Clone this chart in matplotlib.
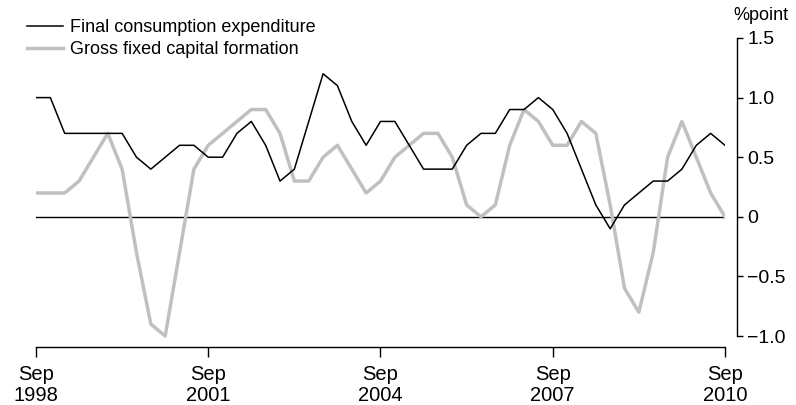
import numpy as np
import matplotlib.pyplot as plt

plt.rcParams['font.family'] = ['Liberation Sans', 'DejaVu Sans']

# quarterly, Sep 1998 - Sep 2010, contribution to growth (%point)
fce = [1.0, 1.0, 0.7, 0.7, 0.7, 0.7, 0.7, 0.5, 0.4, 0.5, 0.6, 0.6, 0.5,
       0.5, 0.7, 0.8, 0.6, 0.3, 0.4, 0.8, 1.2, 1.1, 0.8, 0.6, 0.8,
       0.8, 0.6, 0.4, 0.4, 0.4, 0.6, 0.7, 0.7, 0.9, 0.9, 1.0, 0.9,
       0.7, 0.4, 0.1, -0.1, 0.1, 0.2, 0.3, 0.3, 0.4, 0.6, 0.7, 0.6]
gfcf = [0.2, 0.2, 0.2, 0.3, 0.5, 0.7, 0.4, -0.3, -0.9, -1.0, -0.3, 0.4, 0.6,
        0.7, 0.8, 0.9, 0.9, 0.7, 0.3, 0.3, 0.5, 0.6, 0.4, 0.2, 0.3,
        0.5, 0.6, 0.7, 0.7, 0.5, 0.1, 0.0, 0.1, 0.6, 0.9, 0.8, 0.6,
        0.6, 0.8, 0.7, 0.1, -0.6, -0.8, -0.3, 0.5, 0.8, 0.5, 0.2, 0.0]
tick_pos = [0, 12, 24, 36, 48]
tick_labels = ['Sep\n1998', 'Sep\n2001', 'Sep\n2004', 'Sep\n2007', 'Sep\n2010']
y_ticks = [-1.0, -0.5, 0, 0.5, 1.0, 1.5]
y_labels = ['\u22121.0', '\u22120.5', '0', '0.5', '1.0', '1.5']

x = np.arange(len(fce))

fig = plt.figure(figsize=(7.96, 4.05), dpi=100)
ax = fig.add_axes([36 / 796, 58 / 405, 689 / 796, 309 / 405])

ax.axhline(0, color='black', lw=1.0, zorder=1)
l2, = ax.plot(x, gfcf, color='#c0c0c0', lw=2.5, label='Gross fixed capital formation', zorder=2)
l1, = ax.plot(x, fce, color='black', lw=1.1, label='Final consumption expenditure', zorder=3)

ax.set_xlim(0, 48)
ax.set_ylim(-1.092, 1.5)

for s in ['left', 'top']:
    ax.spines[s].set_visible(False)
ax.spines['right'].set_position(('outward', 9))
ax.spines['right'].set_bounds(-1.0, 1.5)
ax.spines['right'].set_linewidth(1.0)
ax.spines['bottom'].set_linewidth(1.0)

ax.yaxis.tick_right()
ax.set_yticks(y_ticks)
ax.set_yticklabels(y_labels, fontsize=14)
ax.tick_params(axis='y', direction='out', length=4, width=1.0, pad=3)

ax.set_xticks(tick_pos)
ax.set_xticklabels(tick_labels, fontsize=14.5, linespacing=1.1)
ax.tick_params(axis='x', direction='out', length=7, width=1.0, pad=6)

fig.text(733 / 796, 1 - 15 / 405, '%point', fontsize=13, ha='left', va='center')

fig.legend(handles=[l1, l2], loc='upper left', bbox_to_anchor=(27 / 796, 1 - 19 / 405),
           frameon=False, handlelength=2.0, handletextpad=0.4,
           labelspacing=0.28, borderpad=0, borderaxespad=0,
           prop={'size': 13})

fig.savefig('out.png', dpi=100)
